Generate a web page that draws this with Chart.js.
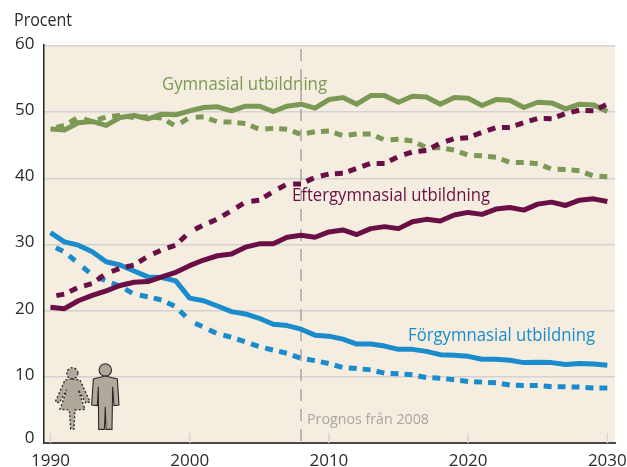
<!DOCTYPE html>
<html><head><meta charset="utf-8">
<style>html,body{margin:0;padding:0;background:#fff}#w{width:627px;height:467px}canvas{display:block}</style>
<script src="https://cdn.jsdelivr.net/npm/chart.js@4"></script>
</head><body><div id="w"><canvas id="c" width="627" height="467"></canvas></div>
<script>
const years=[1990,1991,1992,1993,1994,1995,1996,1997,1998,1999,2000,2001,2002,2003,2004,2005,2006,2007,2008,2009,2010,2011,2012,2013,2014,2015,2016,2017,2018,2019,2020,2021,2022,2023,2024,2025,2026,2027,2028,2029,2030];
const gymMen=[47.45,47.3,48.4,48.6,48,49.2,49.5,49,49.7,49.6,50.2,50.7,50.8,50.2,50.9,50.9,50.1,50.9,51.2,50.6,51.9,52.2,51.2,52.5,52.5,51.5,52.4,52.3,51.2,52.2,52.1,51,51.9,51.8,50.7,51.5,51.4,50.5,51.2,51.1,50.1];
const gymWomen=[47.45,48,49.2,48.6,49.3,49.5,49.2,49.3,49.1,47.9,49.2,49.3,48.55,48.5,48.3,47.4,47.55,47.4,46.65,47.05,47.15,46.45,46.7,46.7,45.8,45.9,45.65,44.63,44.63,44.28,43.5,43.4,43.2,42.4,42.4,42.2,41.4,41.35,41.15,40.35,40.25];
const eftMen=[20.5,20.3,21.5,22.3,23,23.8,24.3,24.4,25.1,25.8,26.8,27.65,28.3,28.55,29.6,30.1,30.1,31.1,31.4,31.1,31.9,32.2,31.5,32.4,32.7,32.4,33.45,33.8,33.55,34.45,34.85,34.55,35.35,35.6,35.2,36.1,36.4,35.9,36.7,36.9,36.5];
const eftWomen=[22.1,22.5,23.5,24.1,25.6,26.4,26.9,28.2,29.2,29.9,31.9,32.95,33.85,35.1,36.4,36.7,38,39.15,39.15,40.15,40.65,40.75,41.5,42.25,42.25,43.3,44,44.2,45.3,46,46.15,46.95,47.65,47.7,48.4,49.05,49,49.8,50.3,50.2,51.2];
const forMen=[31.8,30.4,29.9,28.9,27.4,26.9,26,25.1,25,24.5,21.9,21.5,20.7,19.85,19.5,18.85,17.95,17.75,17.2,16.3,16.15,15.7,14.95,14.95,14.65,14.15,14.15,13.85,13.35,13.25,13.1,12.65,12.65,12.5,12.15,12.2,12.15,11.85,12,11.95,11.75];
const forWomen=[29.9,28.9,27.15,25.4,24.5,23.7,22.5,22.1,21.6,20.6,18.5,17.5,16.5,16,15.3,14.55,14.05,13.55,12.8,12.45,12,11.4,11.25,11.05,10.55,10.45,10.3,9.9,9.8,9.55,9.3,9.2,9.1,8.75,8.7,8.7,8.5,8.5,8.45,8.3,8.3];
const xTicks=[1990,2000,2010,2020,2030];
const yTicks=[0,10,20,30,40,50,60];
const forecastYear=2008;
const GREEN='#7b9955',MAROON='#6a0f45',BLUE='#1a8ccc',FONT='"Open Sans"';
const rows=(a)=>a.map((v,i)=>({x:years[i],y:v}));
const solid=(label,d,c)=>({label,data:rows(d),borderColor:c,borderWidth:5,pointRadius:0,tension:0,fill:false,borderJoinStyle:'round'});
const dashed=(label,d,c)=>({...solid(label,d,c),segment:{borderDash:()=>[8,6],borderDashOffset:k=>8+k.p0DataIndex*1e-4}});
const texts=[
 {t:'Procent',x:14,y:21,w:58,c:'#2b2b2b',s:17.5},
 {t:'Gymnasial utbildning',x:162,y:85,w:165,c:GREEN,s:18.5},
 {t:'Eftergymnasial utbildning',x:292,y:196,w:198,c:MAROON,s:18.5},
 {t:'Förgymnasial utbildning',x:408,y:336,w:187,c:BLUE,s:18.5},
 {t:'Prognos från 2008',x:307,y:420,w:122,c:'#a8a5a0',s:14.5}
];
function shape(ctx,pts){ctx.beginPath();pts.forEach((p,i)=>i?ctx.lineTo(p[0]/3,230+p[1]/3):ctx.moveTo(p[0]/3,230+p[1]/3));ctx.closePath();ctx.fill();ctx.stroke();}
function people(ctx){
 ctx.save();ctx.fillStyle='#b0a99b';ctx.strokeStyle='#2a2a28';ctx.lineWidth=1.1;
 ctx.beginPath();ctx.arc(105.3,370,6.2,0,7);ctx.fill();ctx.stroke();
 shape(ctx,[[316,438],[352,447],[357,525],[342,527],[338,470],[336,598],[318,598],[316,530],[313,598],[296,598],[295,470],[292,527],[275,525],[280,447]]);
 ctx.setLineDash([2,2]);ctx.lineWidth=1.3;
 ctx.beginPath();ctx.arc(72.3,373.3,5.6,0,7);ctx.fill();ctx.stroke();
 shape(ctx,[[217,447],[240,450],[270,515],[258,520],[235,480],[255,538],[225,540],[222,597],[212,597],[208,540],[180,538],[200,480],[178,518],[166,515],[195,450]]);
 ctx.restore();
}
const decor={id:'decor',
 beforeDraw(ch){const {ctx,chartArea:a}=ch;ctx.save();ctx.fillStyle='#f5eee0';ctx.fillRect(a.left,a.top,a.right-a.left,a.bottom-a.top);ctx.restore();},
 beforeDatasetsDraw(ch){const {ctx,chartArea:a,scales:{x}}=ch;ctx.save();
  ctx.strokeStyle='#d6d4d1';ctx.lineWidth=1.5;
  xTicks.forEach(v=>{const p=x.getPixelForValue(v);ctx.beginPath();ctx.moveTo(p,a.bottom);ctx.lineTo(p,a.bottom-10);ctx.stroke();});
  const p=x.getPixelForValue(forecastYear);ctx.strokeStyle='#a9a7a3';ctx.setLineDash([12,8]);ctx.beginPath();ctx.moveTo(p,a.top+4);ctx.lineTo(p,a.bottom);ctx.stroke();
  ctx.restore();people(ctx);},
 afterDraw(ch){const {ctx}=ch;ctx.save();ctx.textBaseline='middle';ctx.textAlign='left';
  texts.forEach(o=>{ctx.fillStyle=o.c;ctx.font=`${o.s}px ${FONT}`;ctx.fillText(o.t,o.x,o.y,o.w);});ctx.restore();}
};
new Chart(document.getElementById('c'),{type:'line',
 data:{datasets:[dashed('Eftergymnasial kvinnor',eftWomen,MAROON),solid('Eftergymnasial män',eftMen,MAROON),dashed('Gymnasial kvinnor',gymWomen,GREEN),solid('Gymnasial män',gymMen,GREEN),dashed('Förgymnasial kvinnor',forWomen,BLUE),solid('Förgymnasial män',forMen,BLUE)]},
 plugins:[decor],
 options:{responsive:false,animation:false,events:[],
  layout:{padding:{top:45,right:12,left:0,bottom:0}},
  plugins:{legend:{display:false},tooltip:{enabled:false}},
  scales:{
   x:{type:'linear',min:1989.5,max:2030.55,afterBuildTicks:s=>{s.ticks=xTicks.map(v=>({value:v}));},
      grid:{display:false},border:{color:'#4a4a48',width:2},
      afterFit:s=>{s.height=24;s.paddingLeft=0;s.paddingRight=0;},
      ticks:{autoSkip:false,maxRotation:0,padding:0,color:'#2b2b2b',font:{family:FONT,size:17},callback:v=>String(v)}},
   y:{min:0,max:60.15,afterBuildTicks:s=>{s.ticks=yTicks.map(v=>({value:v}));},
      grid:{color:c=>c.tick&&c.tick.value===0?'rgba(0,0,0,0)':'#d4d2d0',lineWidth:1.5,drawTicks:false},border:{color:'#222',width:1.5},
      afterFit:s=>{s.width=43.5;s.paddingTop=0;s.paddingBottom=0;},
      ticks:{autoSkip:false,padding:9,color:'#2b2b2b',
        font:c=>({family:FONT,size:17,lineHeight:c.tick&&c.tick.value===0?'10px':'4px'}),
        callback:v=>[String(v),'']}}
  }}
});
</script></body></html>
